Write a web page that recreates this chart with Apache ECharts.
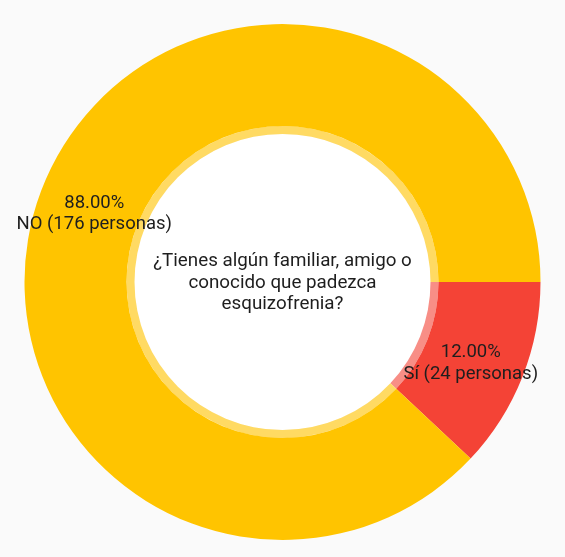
<!DOCTYPE html>
<html>
<head>
<meta charset="utf-8">
<script src="https://cdn.jsdelivr.net/npm/echarts@6/dist/echarts.min.js"></script>
<style>
html,body{margin:0;padding:0;background:#fafafa;}
#c{width:565px;height:557px;}
</style>
</head>
<body>
<div id="c"></div>
<script>
const categories = ['Sí', 'NO'];
const counts = [24, 176];
const colors = ['#F44336', '#FFC400'];
const ringColors = ['#F88E86', '#FFDA63'];
const titleLines = ['¿Tienes algún familiar, amigo o', 'conocido que padezca', 'esquizofrenia?'];

const chart = echarts.init(document.getElementById('c'));
const center = [282.5, 282];
const labelOffsets = [[-7, 4], [7, 9]];
chart.setOption({
  backgroundColor: '#fafafa',
  animation: false,
  graphic: [{
    type: 'text',
    left: 'center',
    top: 251,
    z: 100,
    style: {
      text: titleLines.join('\n'),
      textAlign: 'center',
      font: '18.8px Roboto',
      fill: '#1e1e1e',
      lineHeight: 21.5
    }
  }],
  series: [
    {
      type: 'pie',
      center: center,
      radius: [0, 148],
      silent: true,
      z: 1,
      data: [{ name: 'centro', value: 1, itemStyle: { color: '#ffffff' } }],
      label: { show: false },
      labelLine: { show: false }
    },
    {
      type: 'pie',
      center: center,
      radius: [148, 156],
      startAngle: 0,
      silent: true,
      z: 1,
      data: categories.map((c, i) => ({ name: c, value: counts[i], itemStyle: { color: ringColors[i] } })),
      label: { show: false },
      labelLine: { show: false }
    },
    {
      type: 'pie',
      center: center,
      radius: [156, 258],
      startAngle: 0,
      clockwise: true,
      silent: true,
      z: 5,
      data: categories.map((c, i) => ({ name: c, value: counts[i], itemStyle: { color: colors[i] }, label: { offset: labelOffsets[i] } })),
      label: {
        position: 'inside',
        fontFamily: 'Roboto',
        fontSize: 18.5,
        color: '#1e1e1e',
        lineHeight: 21.5,
        formatter: p => (p.percent.toFixed(2)) + '%\n' + p.name + ' (' + p.value + ' personas)'
      },
      labelLine: { show: false }
    }
  ]
});
</script>
</body>
</html>
